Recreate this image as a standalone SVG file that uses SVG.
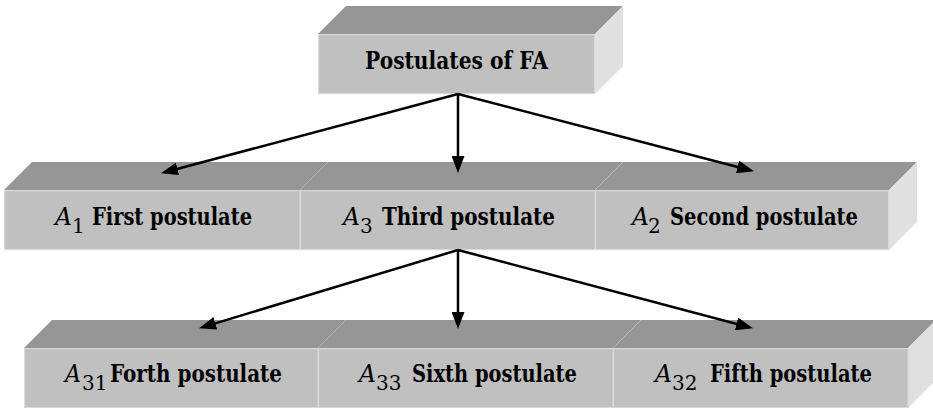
<svg xmlns="http://www.w3.org/2000/svg" width="933" height="408" viewBox="0 0 933 408">
<style>
.front{fill:#c0c0c0;stroke:#dadada;stroke-width:1.2}
.top{fill:#969696}
.side{fill:#e0e0e0}
text{font-family:'DejaVu Serif',serif;font-size:23.5px;fill:#000}
.b{font-weight:bold}
.i{font-style:italic}
.s{font-size:20px}
.conn line{stroke:#000;stroke-width:2.5}
</style>
<defs>
<marker id="ah" markerUnits="userSpaceOnUse" markerWidth="17" markerHeight="13" refX="13" refY="6.5" orient="auto">
<path d="M0,0 L17,6.5 L0,13 Z" fill="#000"/>
</marker>
</defs>
<rect width="933" height="408" fill="#fff"/>

<g id="root">
<polygon class="top" points="318,34 346,6 623,6 595,34"/>
<polygon class="side" points="595,34 623,6 623,66 595,94"/>
<rect class="front" x="318.6" y="34.6" width="276" height="59"/>
<text class="b" x="365" y="69" textLength="183" lengthAdjust="spacingAndGlyphs">Postulates of FA</text>
</g>

<g id="a1">
<polygon class="top" points="4,190 32,162 328,162 300,190"/>
<polygon class="side" points="300,190 328,162 328,222 300,250"/>
<rect class="front" x="4.6" y="190.6" width="295.5" height="59"/>
<text x="55" y="225"><tspan class="i" textLength="17" lengthAdjust="spacingAndGlyphs">A</tspan><tspan class="s" x="72" dy="8">1 </tspan><tspan class="b" dy="-8" x="92" textLength="160" lengthAdjust="spacingAndGlyphs">First postulate</tspan></text>
</g>
<g id="a3">
<polygon class="top" points="300,190 328,162 623,162 595,190"/>
<polygon class="side" points="595,190 623,162 623,222 595,250"/>
<rect class="front" x="300.6" y="190.6" width="294.5" height="59"/>
<text x="343" y="225"><tspan class="i" textLength="17" lengthAdjust="spacingAndGlyphs">A</tspan><tspan class="s" x="360" dy="8">3 </tspan><tspan class="b" dy="-8" x="382" textLength="173" lengthAdjust="spacingAndGlyphs">Third postulate</tspan></text>
</g>
<g id="a2">
<polygon class="top" points="595,190 623,162 917,162 889,190"/>
<polygon class="side" points="889,190 917,162 917,222 889,250"/>
<rect class="front" x="595.6" y="190.6" width="293" height="59"/>
<text x="632" y="225"><tspan class="i" textLength="17" lengthAdjust="spacingAndGlyphs">A</tspan><tspan class="s" x="648" dy="8">2 </tspan><tspan class="b" dy="-8" x="670" textLength="188" lengthAdjust="spacingAndGlyphs">Second postulate</tspan></text>
</g>

<g id="a31">
<polygon class="top" points="24,348 52,320 346,320 318,348"/>
<polygon class="side" points="318,348 346,320 346,380 318,408"/>
<rect class="front" x="24.6" y="348.6" width="293.5" height="59"/>
<text x="65" y="382"><tspan class="i" textLength="16" lengthAdjust="spacingAndGlyphs">A</tspan><tspan class="s" x="82" dy="8">31</tspan><tspan font-size="3"> </tspan><tspan class="b" dy="-8" x="110" textLength="172" lengthAdjust="spacingAndGlyphs">Forth postulate</tspan></text>
</g>
<g id="a33">
<polygon class="top" points="318,348 346,320 641,320 613,348"/>
<polygon class="side" points="613,348 641,320 641,380 613,408"/>
<rect class="front" x="318.6" y="348.6" width="294.5" height="59"/>
<text x="359" y="382"><tspan class="i" textLength="17" lengthAdjust="spacingAndGlyphs">A</tspan><tspan class="s" x="376" dy="8">33 </tspan><tspan class="b" dy="-8" x="412" textLength="165" lengthAdjust="spacingAndGlyphs">Sixth postulate</tspan></text>
</g>
<g id="a32">
<polygon class="top" points="613,348 641,320 936,320 908,348"/>
<polygon class="side" points="908,348 936,320 936,380 908,408"/>
<rect class="front" x="613.6" y="348.6" width="294.5" height="59"/>
<text x="655" y="382"><tspan class="i" textLength="17" lengthAdjust="spacingAndGlyphs">A</tspan><tspan class="s" x="672" dy="8">32 </tspan><tspan class="b" dy="-8" x="710" textLength="162" lengthAdjust="spacingAndGlyphs">Fifth postulate</tspan></text>
</g>

<g id="connectors" class="conn">
<line x1="458" y1="94" x2="164.9" y2="172.2" marker-end="url(#ah)"/>
<line x1="458" y1="94" x2="458" y2="169" marker-end="url(#ah)"/>
<line x1="458" y1="94" x2="750.1" y2="170.2" marker-end="url(#ah)"/>
<line x1="458" y1="250" x2="202.9" y2="327.1" marker-end="url(#ah)"/>
<line x1="458" y1="250" x2="458" y2="325" marker-end="url(#ah)"/>
<line x1="458" y1="250" x2="749.1" y2="327.2" marker-end="url(#ah)"/>
</g>
</svg>
